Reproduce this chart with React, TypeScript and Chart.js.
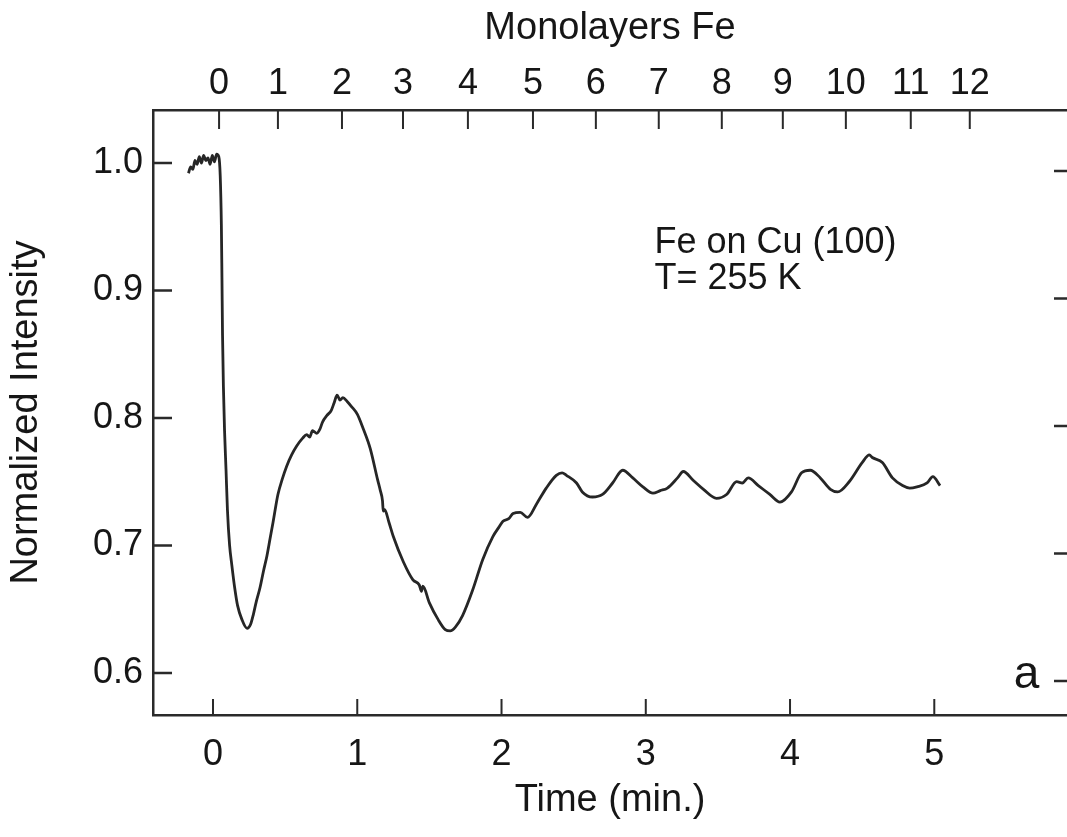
import React, { useEffect, useRef } from "react";
import { Chart, registerables } from "chart.js";

Chart.register(...registerables);

// Time (min.) of each trace sample
const timeMin: number[] = [
  -0.17, -0.155, -0.14, -0.125, -0.11, -0.095, -0.08, -0.065, -0.05, -0.035,
  -0.02, -0.005, 0.01, 0.025, 0.04, 0.05, 0.058, 0.062, 0.066, 0.072,
  0.08, 0.09, 0.1, 0.115, 0.13, 0.15, 0.17, 0.2, 0.236, 0.26,
  0.28, 0.3, 0.326, 0.35, 0.374, 0.395, 0.416, 0.45, 0.48, 0.51,
  0.545, 0.58, 0.62, 0.65, 0.67, 0.69, 0.72, 0.74, 0.76, 0.79,
  0.82, 0.84, 0.86, 0.88, 0.9, 0.93, 0.96, 1.0, 1.04, 1.09,
  1.14, 1.16, 1.175, 1.18, 1.19, 1.22, 1.25, 1.32, 1.386, 1.43,
  1.445, 1.455, 1.5, 1.56, 1.61, 1.645, 1.68, 1.73, 1.8, 1.87,
  1.94, 1.98, 2.01, 2.05, 2.08, 2.13, 2.18, 2.245, 2.31, 2.38,
  2.42, 2.45, 2.52, 2.56, 2.63, 2.7, 2.77, 2.84, 2.91, 2.98,
  3.05, 3.1, 3.15, 3.22, 3.26, 3.33, 3.4, 3.49, 3.56, 3.63,
  3.67, 3.71, 3.78, 3.86, 3.93, 4.01, 4.08, 4.14, 4.21, 4.28,
  4.33, 4.41, 4.5, 4.55, 4.57, 4.64, 4.71, 4.78, 4.83, 4.88,
  4.95, 4.99, 5.04,
];

// Normalized intensity of each trace sample
const intensity: number[] = [
  0.992, 0.997, 0.995, 1.002, 0.999, 1.005, 1.0, 1.006, 1.002, 1.004,
  0.999, 1.006, 1.001, 1.007, 1.005, 0.99, 0.951, 0.91, 0.865, 0.825,
  0.79, 0.76, 0.728, 0.7, 0.685, 0.667, 0.653, 0.642, 0.635, 0.638,
  0.646, 0.656, 0.667, 0.68, 0.692, 0.705, 0.718, 0.74, 0.752, 0.762,
  0.771, 0.778, 0.784, 0.787, 0.785, 0.79, 0.788, 0.791, 0.797, 0.802,
  0.806, 0.812, 0.818, 0.814, 0.816, 0.813, 0.809, 0.803, 0.792, 0.776,
  0.752, 0.743, 0.735, 0.727, 0.728, 0.718, 0.707, 0.687, 0.673, 0.669,
  0.664, 0.668, 0.655, 0.642, 0.634, 0.633, 0.636, 0.645, 0.665, 0.689,
  0.707, 0.714, 0.719, 0.721, 0.725, 0.726, 0.722, 0.733, 0.745, 0.755,
  0.757, 0.755, 0.749, 0.742, 0.738, 0.74, 0.749, 0.759, 0.753, 0.746,
  0.741, 0.743, 0.745, 0.753, 0.758, 0.751, 0.744, 0.737, 0.74, 0.75,
  0.749, 0.753, 0.747, 0.74, 0.734, 0.742, 0.757, 0.759, 0.753, 0.744,
  0.742, 0.75, 0.765, 0.771, 0.769, 0.765, 0.753, 0.747, 0.745, 0.746,
  0.749, 0.754, 0.747,
];

// Bottom axis ticks (minutes)
const timeTicks: number[] = [0, 1, 2, 3, 4, 5];
// Left axis ticks
const intensityTicks: number[] = [0.6, 0.7, 0.8, 0.9, 1.0];
// Top axis: monolayer labels and the time at which each falls
const monolayerLabels: string[] = ["0", "1", "2", "3", "4", "5", "6", "7", "8", "9", "10", "11", "12"];
const monolayerTimes: number[] = [0.042, 0.45, 0.894, 1.317, 1.767, 2.218, 2.654, 3.09, 3.527, 3.95, 4.387, 4.837, 5.246];

const annotationLines: string[] = ["Fe on Cu (100)", "T= 255 K"];
const panelLabel = "a";

const FONT = "'Liberation Sans', Arial, Helvetica, sans-serif";
const INK = "#161616";

export default function App() {
  const ref = useRef<HTMLCanvasElement | null>(null);

  useEffect(() => {
    const canvas = ref.current;
    if (!canvas) return;

    const inwardTicks = {
      id: "inwardTicks",
      afterDraw(chart: any) {
        const { ctx, chartArea } = chart;
        const x = chart.scales.x;
        const x2 = chart.scales.x2;
        const y = chart.scales.y;
        ctx.save();
        ctx.strokeStyle = "#2a2a2a";
        ctx.lineWidth = 2.5;
        ctx.beginPath();
        for (const v of intensityTicks) {
          const py = y.getPixelForValue(v);
          ctx.moveTo(chartArea.left, py);
          ctx.lineTo(chartArea.left + 19, py);
          ctx.moveTo(chartArea.right - 13, py + 8);
          ctx.lineTo(chartArea.right, py + 8);
        }
        ctx.stroke();
        ctx.lineWidth = 2;
        ctx.beginPath();
        for (const v of timeTicks) {
          const px = x.getPixelForValue(v);
          ctx.moveTo(px, chartArea.bottom);
          ctx.lineTo(px, chartArea.bottom - 16);
        }
        for (const v of monolayerTimes) {
          const px = x2.getPixelForValue(v);
          ctx.moveTo(px, chartArea.top);
          ctx.lineTo(px, chartArea.top + 19);
        }
        ctx.stroke();

        ctx.fillStyle = INK;
        ctx.textAlign = "left";
        ctx.textBaseline = "middle";
        ctx.font = `36px ${FONT}`;
        const ax = x.getPixelForValue(3.06);
        ctx.fillText(annotationLines[0], ax, y.getPixelForValue(0.937));
        ctx.fillText(annotationLines[1], ax, y.getPixelForValue(0.909));
        ctx.font = `46px ${FONT}`;
        ctx.fillText(panelLabel, x.getPixelForValue(5.55), y.getPixelForValue(0.598));
        ctx.restore();
      },
    };

    const tickFont = { family: FONT, size: 36 };
    const titleFont = { family: FONT, size: 38 };

    const chart = new Chart(canvas, {
      type: "line",
      data: {
        datasets: [
          {
            data: timeMin.map((t, i) => ({ x: t, y: intensity[i] })),
            borderColor: "#262626",
            borderWidth: 2.8,
            pointRadius: 0,
            fill: false,
            cubicInterpolationMode: "monotone",
          },
        ],
      },
      options: {
        animation: false,
        responsive: false,
        events: [],
        layout: { padding: 0 },
        plugins: { legend: { display: false }, tooltip: { enabled: false } },
        scales: {
          x: {
            type: "linear",
            position: "bottom",
            min: -0.416,
            max: 5.92,
            afterBuildTicks: (s: any) => {
              s.ticks = timeTicks.map((v) => ({ value: v }));
            },
            afterFit: (s: any) => {
              s.height = 122;
            },
            grid: { display: false, drawTicks: false, tickLength: 0 },
            border: { display: true, color: "#2a2a2a", width: 2.5 },
            ticks: {
              color: INK,
              font: tickFont,
              padding: 18,
              maxRotation: 0,
              autoSkip: false,
              callback: (v: any) => String(v),
            },
            title: {
              display: true,
              text: "Time (min.)",
              color: INK,
              font: titleFont,
              padding: { top: 0, bottom: 14 },
            },
          },
          x2: {
            type: "linear",
            position: "top",
            min: -0.416,
            max: 5.92,
            afterBuildTicks: (s: any) => {
              s.ticks = monolayerTimes.map((v) => ({ value: v }));
            },
            afterFit: (s: any) => {
              s.height = 110;
            },
            grid: { display: false, drawTicks: false, tickLength: 0 },
            border: { display: true, color: "#2a2a2a", width: 2.5 },
            ticks: {
              color: INK,
              font: tickFont,
              padding: 4,
              maxRotation: 0,
              autoSkip: false,
              callback: (_v: any, i: number) => monolayerLabels[i],
            },
            title: {
              display: true,
              text: "Monolayers Fe",
              color: INK,
              font: titleFont,
              padding: { top: 6, bottom: 0 },
            },
          },
          y: {
            type: "linear",
            position: "left",
            min: 0.567,
            max: 1.0416,
            afterBuildTicks: (s: any) => {
              s.ticks = intensityTicks.map((v) => ({ value: v }));
            },
            afterFit: (s: any) => {
              s.width = 153;
            },
            grid: { display: false, drawTicks: false, tickLength: 0 },
            border: { display: true, color: "#2a2a2a", width: 2.5 },
            ticks: {
              color: INK,
              font: tickFont,
              padding: 10,
              autoSkip: false,
              callback: (v: any) => Number(v).toFixed(1),
            },
            title: {
              display: true,
              text: "Normalized Intensity",
              color: INK,
              font: titleFont,
              padding: { top: 4, bottom: 0 },
            },
          },
        },
      },
      plugins: [inwardTicks],
    } as any);

    return () => chart.destroy();
  }, []);

  return (
    <div style={{ position: "fixed", left: 0, top: 0, width: 1067, height: 837, background: "#fff" }}>
      <canvas ref={ref} width={1067} height={837} style={{ display: "block" }} />
    </div>
  );
}
